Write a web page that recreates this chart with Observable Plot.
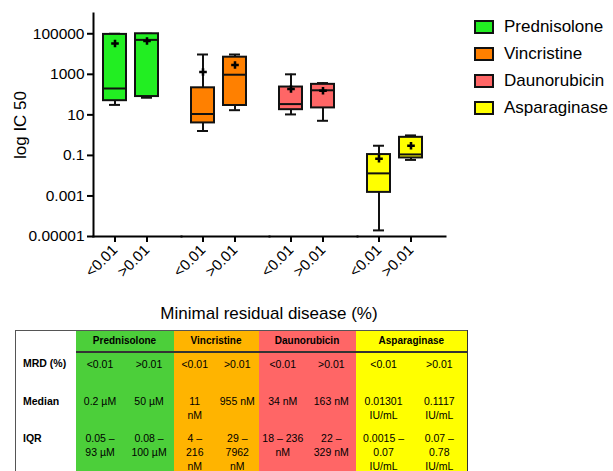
<!DOCTYPE html>
<html>
<head>
<meta charset="utf-8">
<script src="https://cdn.jsdelivr.net/npm/d3@7"></script>
<script src="https://cdn.jsdelivr.net/npm/@observablehq/plot@0.6"></script>
<style>
  html, body { margin: 0; padding: 0; background: #fff; overflow: hidden; }
  #wrap { position: relative; width: 613px; height: 471px; font-family: "Liberation Sans", Arial, Helvetica, sans-serif; color: #000; }
  #chart { position: absolute; left: 0; top: 0; }
  #chart svg g[aria-label="x-axis tick label"] { font-size: 15px; }
  #chart svg g[aria-label="y-axis tick label"] { font-size: 15.5px; }
  #chart svg g[aria-label="y-axis label"] { font-size: 17px; }
  #chart svg line, #chart svg path { stroke-width: 2px; }
  #chart svg rect[fill="none"] { stroke-width: 2px; }
  #chart svg [aria-label="frame"], #chart svg [aria-label$="line"], #chart svg [aria-label$="line"] * { stroke-width: 2px; stroke: #000; }
  #title { position: absolute; left: 93px; width: 352px; top: 304px; text-align: center; font-size: 17px; }
  #legend { position: absolute; left: 474px; top: 20px; }
  .lg { position: relative; height: 27px; }
  .sw { position: absolute; left: 0; top: 0; width: 20px; height: 14px; box-sizing: border-box; border: 2px solid #111; }
  .lt { position: absolute; left: 30px; top: -3px; font-size: 17px; line-height: 20px; white-space: nowrap; }
  #tbl { position: absolute; left: 15px; top: 330px; border-collapse: collapse; table-layout: fixed; width: 452px;
         font-size: 10.5px; border-top: 1px solid #555; border-left: 1px solid #555; }
  #tbl td { padding: 0; text-align: center; vertical-align: top; line-height: 14px; white-space: pre-line; }
  #tbl tr.head td { height: 20px; vertical-align: middle; font-weight: bold; font-size: 10px; }
  #tbl tr.head td.c { border-bottom: 2px solid #333; }
  #tbl tr.body td { height: 33px; padding-top: 4px; }
  #tbl td.lab { text-align: left; padding-left: 7px; font-weight: bold; }
  #tbl td.last { border-right: 1px solid #333; }
</style>
</head>
<body>
<div id="wrap">
  <div id="chart"></div>
  <div id="title"></div>
  <div id="legend"></div>
  <table id="tbl"></table>
</div>
<script>
// ---------- data ----------
const drugs = ["Prednisolone", "Vincristine", "Daunorubicin", "Asparaginase"];
const mrdLevels = ["<0.01", ">0.01"];
const boxColors = ["#22ee22", "#ff8000", "#ff6666", "#ffff00"];
const tableColors = ["#4ccf3a", "#ffb400", "#ff6666", "#ffff00"];

// one entry per box (drug x MRD group), IC50 in nM (asparaginase in IU/mL)
const boxDrug = ["Prednisolone", "Prednisolone", "Vincristine", "Vincristine", "Daunorubicin", "Daunorubicin", "Asparaginase", "Asparaginase"];
const boxMrd = ["<0.01", ">0.01", "<0.01", ">0.01", "<0.01", ">0.01", "<0.01", ">0.01"];
const whiskerLow = [31, 70, 1.6, 17, 10.5, 5.1, 0.00002, 0.06];
const q1 = [50, 80, 4, 29, 18, 22, 0.0015, 0.075];
const median = [200, 50000, 11, 955, 34, 163, 0.013, 0.1117];
const q3 = [93000, 100000, 216, 7000, 236, 320, 0.11, 0.78];
const whiskerHigh = [100000, 100000, 9500, 9500, 1000, 370, 0.3, 0.97];
const mean = [33000, 44000, 1300, 2900, 190, 155, 0.068, 0.3];

const yTicks = [1e-5, 1e-3, 0.1, 10, 1000, 100000];
const yTickLabels = ["0.00001", "0.001", "0.1", "10", "1000", "100000"];
const yLabel = "log IC 50";
const xTitle = "Minimal residual disease (%)";

// table text
const rowLabels = ["MRD (%)", "Median", "IQR"];
const medianText = ["0.2 µM", "50 µM", "11\nnM", "955 nM", "34 nM", "163 nM", "0.01301\nIU/mL", "0.1117\nIU/mL"];
const iqrText = ["0.05 –\n93 µM", "0.08 –\n100 µM", "4 –\n216\nnM", "29 –\n7962\nnM", "18 – 236\nnM", "22 –\n329 nM", "0.0015 –\n0.07\nIU/mL", "0.07 –\n0.78\nIU/mL"];
const colWidths = [60, 49, 49, 42.5, 42.5, 48.5, 48.5, 56, 56];

// ---------- chart ----------
const rows = boxDrug.map((d, i) => ({
  drug: d, mrd: boxMrd[i], lo: whiskerLow[i], q1: q1[i], med: median[i], q3: q3[i], hi: whiskerHigh[i], mean: mean[i]
}));

const chart = Plot.plot({
  width: 613,
  height: 300,
  marginLeft: 93,
  marginRight: 168,
  marginTop: 13,
  marginBottom: 64,
  style: { fontFamily: "'Liberation Sans', Arial, Helvetica, sans-serif", color: "#000", background: "transparent" },
  fx: { domain: drugs, axis: null, padding: 0 },
  x: { domain: mrdLevels, paddingInner: 0.27, paddingOuter: 0.47, align: 0.32, tickRotate: -45, tickSize: 6, tickPadding: 5, label: null, line: true },
  y: { type: "log", domain: [1e-5, 1e6], ticks: yTicks, tickFormat: v => yTickLabels[yTicks.indexOf(v)], tickSize: 6,
       label: yLabel, labelAnchor: "center", labelArrow: "none", labelOffset: 80, line: true },
  color: { domain: drugs, range: boxColors },
  marks: [
    Plot.ruleX(rows, { fx: "drug", x: "mrd", y1: "lo", y2: "hi", stroke: "#111", strokeWidth: 2 }),
    Plot.tickY(rows, { fx: "drug", x: "mrd", y: "lo", stroke: "#111", strokeWidth: 2, insetLeft: 6, insetRight: 6 }),
    Plot.tickY(rows, { fx: "drug", x: "mrd", y: "hi", stroke: "#111", strokeWidth: 2, insetLeft: 6, insetRight: 6 }),
    Plot.barY(rows, { fx: "drug", x: "mrd", y1: "q1", y2: "q3", fill: "drug", stroke: "#111", strokeWidth: 2 }),
    Plot.tickY(rows, { fx: "drug", x: "mrd", y: "med", stroke: "#111", strokeWidth: 2 }),
    Plot.dot(rows, { fx: "drug", x: "mrd", y: "mean", symbol: "cross", fill: "#000", stroke: "none", r: 3.2 })
  ]
});
document.getElementById("chart").appendChild(chart);

// ---------- title ----------
document.getElementById("title").textContent = xTitle;

// ---------- legend ----------
const legend = document.getElementById("legend");
drugs.forEach((d, i) => {
  const item = document.createElement("div");
  item.className = "lg";
  const sw = document.createElement("div");
  sw.className = "sw";
  sw.style.background = boxColors[i];
  const t = document.createElement("div");
  t.className = "lt";
  t.textContent = d;
  item.appendChild(sw);
  item.appendChild(t);
  legend.appendChild(item);
});

// ---------- table ----------
const tbl = document.getElementById("tbl");
const cg = document.createElement("colgroup");
colWidths.forEach(w => { const c = document.createElement("col"); c.style.width = w + "px"; cg.appendChild(c); });
tbl.appendChild(cg);

const head = document.createElement("tr");
head.className = "head";
const h0 = document.createElement("td");
head.appendChild(h0);
drugs.forEach((d, i) => {
  const td = document.createElement("td");
  td.colSpan = 2;
  td.className = "c" + (i === drugs.length - 1 ? " last" : "");
  td.style.background = tableColors[i];
  td.textContent = d;
  head.appendChild(td);
});
tbl.appendChild(head);

const bodyRows = [boxMrd, medianText, iqrText];
bodyRows.forEach((vals, r) => {
  const tr = document.createElement("tr");
  tr.className = "body";
  const lab = document.createElement("td");
  lab.className = "lab";
  lab.textContent = rowLabels[r];
  tr.appendChild(lab);
  vals.forEach((v, i) => {
    const td = document.createElement("td");
    const di = drugs.indexOf(boxDrug[i]);
    td.style.background = tableColors[di];
    if (i === vals.length - 1) td.className = "last";
    td.textContent = v;
    tr.appendChild(td);
  });
  tbl.appendChild(tr);
});
</script>
</body>
</html>
